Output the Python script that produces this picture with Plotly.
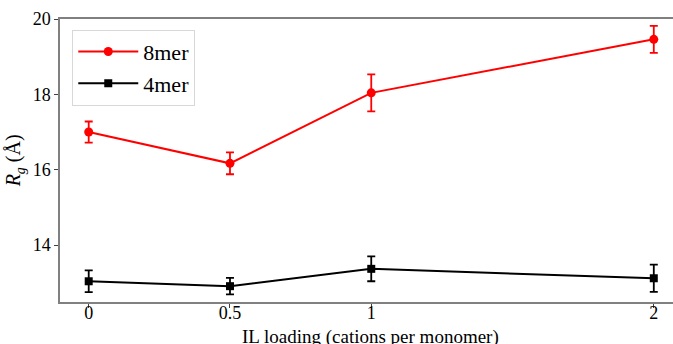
import plotly.graph_objects as go

# IL loading (cations per monomer)
loading = [0, 0.5, 1, 2]

# Radius of gyration (Å) with error bars
rg_8mer = [17.00, 16.17, 18.04, 19.46]
err_8mer = [0.28, 0.29, 0.49, 0.36]
rg_4mer = [13.04, 12.91, 13.37, 13.12]
err_4mer = [0.29, 0.22, 0.33, 0.36]

x_ticks = [0, 0.5, 1, 2]
x_tick_text = ["0", "0.5", "1", "2"]
y_ticks = [14, 16, 18, 20]

serif = "Liberation Serif"

fig = go.Figure()
fig.add_trace(go.Scatter(
    x=loading, y=rg_8mer, name="8mer", mode="lines+markers",
    line=dict(color="red", width=2),
    marker=dict(symbol="circle", size=9, color="red"),
    error_y=dict(type="data", array=err_8mer, color="red", thickness=1.8, width=4),
))
fig.add_trace(go.Scatter(
    x=loading, y=rg_4mer, name="4mer", mode="lines+markers",
    line=dict(color="black", width=2),
    marker=dict(symbol="square", size=8, color="black"),
    error_y=dict(type="data", array=err_4mer, color="black", thickness=1.8, width=4),
))

fig.update_layout(
    width=673, height=344,
    margin=dict(l=60, r=0, t=19, b=42),
    paper_bgcolor="white", plot_bgcolor="white",
    font=dict(family=serif, size=18, color="black"),
    showlegend=True,
    legend=dict(
        x=0.02, y=0.962, xanchor="left", yanchor="top",
        bgcolor="rgba(255,255,255,0.8)", bordercolor="#d8d8d8", borderwidth=1,
        font=dict(size=22, family=serif),
        itemwidth=60, tracegroupgap=0,
    ),
    xaxis=dict(
        range=[-0.1016, 2.068], tickvals=x_ticks, ticktext=x_tick_text,
        showgrid=False, zeroline=False, automargin=False,
        showline=True, linecolor="#808080", linewidth=1.5, mirror=True,
        ticks="outside", ticklen=4, tickcolor="#404040",
        ticklabelstandoff=-10,
    ),
    yaxis=dict(
        range=[12.49, 20.0], tickvals=y_ticks,
        showgrid=False, zeroline=False, automargin=False,
        showline=True, linecolor="#808080", linewidth=1.5,
        ticks="outside", ticklen=4, tickcolor="#404040",
    ),
    annotations=[
        dict(text="IL loading (cations per monomer)", xref="paper", yref="paper",
             x=0.507, y=-0.078, xanchor="center", yanchor="top",
             showarrow=False, font=dict(size=19, family=serif)),
        dict(text="<i>R</i><sub><i>g</i></sub> (Å)", xref="paper", yref="paper",
             x=-0.05, y=0.5, xanchor="right", yanchor="middle", textangle=-90,
             showarrow=False, font=dict(size=20, family=serif)),
    ],
)

fig.write_html("out.html")
